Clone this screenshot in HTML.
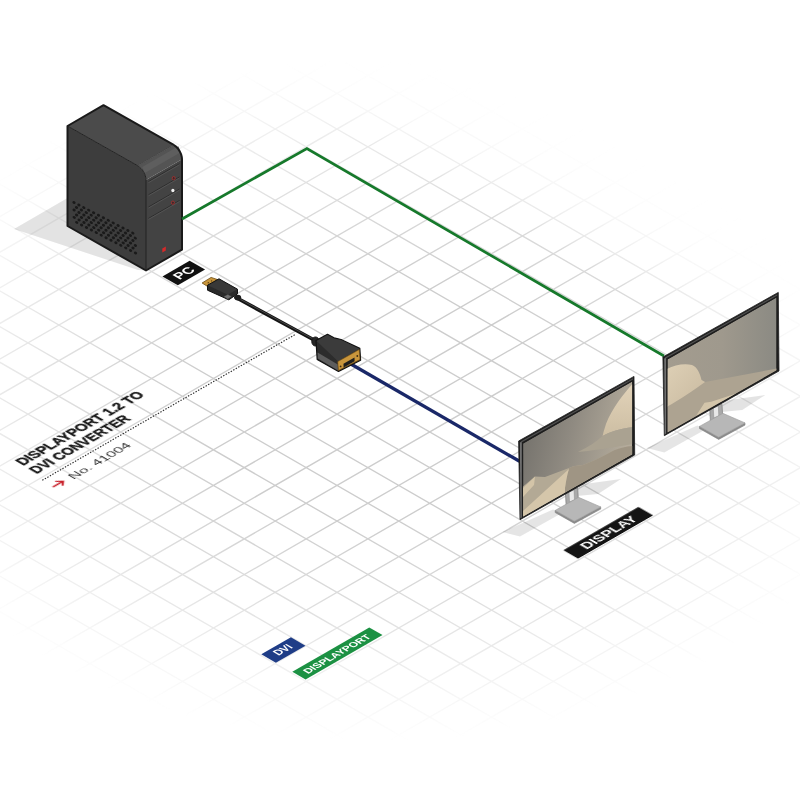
<!DOCTYPE html>
<html><head><meta charset="utf-8"><style>
html,body{margin:0;padding:0;background:#fff;width:800px;height:800px;overflow:hidden}
svg{display:block}
text{font-family:"Liberation Sans",sans-serif;-webkit-font-smoothing:antialiased}
</style></head><body>
<svg width="800" height="800" viewBox="0 0 800 800">
<rect width="800" height="800" fill="#fff"/>
<defs>
<linearGradient id="gx" gradientUnits="userSpaceOnUse" x1="-1069.8" y1="0" x2="509.9" y2="0"><stop offset="0.0000" stop-color="#fff" stop-opacity="0.000"/><stop offset="0.0028" stop-color="#fff" stop-opacity="0.016"/><stop offset="0.0056" stop-color="#fff" stop-opacity="0.062"/><stop offset="0.0085" stop-color="#fff" stop-opacity="0.141"/><stop offset="0.0113" stop-color="#fff" stop-opacity="0.250"/><stop offset="0.0141" stop-color="#fff" stop-opacity="0.391"/><stop offset="0.0169" stop-color="#fff" stop-opacity="0.562"/><stop offset="0.0198" stop-color="#fff" stop-opacity="0.766"/><stop offset="0.0226" stop-color="#fff" stop-opacity="1.000"/><stop offset="0.9097" stop-color="#fff" stop-opacity="1.000"/><stop offset="0.9210" stop-color="#fff" stop-opacity="0.766"/><stop offset="0.9323" stop-color="#fff" stop-opacity="0.562"/><stop offset="0.9436" stop-color="#fff" stop-opacity="0.391"/><stop offset="0.9549" stop-color="#fff" stop-opacity="0.250"/><stop offset="0.9661" stop-color="#fff" stop-opacity="0.141"/><stop offset="0.9774" stop-color="#fff" stop-opacity="0.062"/><stop offset="0.9887" stop-color="#fff" stop-opacity="0.016"/><stop offset="1.0000" stop-color="#fff" stop-opacity="0.000"/></linearGradient>
<linearGradient id="gy" gradientUnits="userSpaceOnUse" x1="0" y1="-485.0" x2="0" y2="463.6"><stop offset="0.0000" stop-color="#fff" stop-opacity="0.000"/><stop offset="0.0282" stop-color="#fff" stop-opacity="0.016"/><stop offset="0.0564" stop-color="#fff" stop-opacity="0.062"/><stop offset="0.0846" stop-color="#fff" stop-opacity="0.141"/><stop offset="0.1128" stop-color="#fff" stop-opacity="0.250"/><stop offset="0.1410" stop-color="#fff" stop-opacity="0.391"/><stop offset="0.1692" stop-color="#fff" stop-opacity="0.562"/><stop offset="0.1974" stop-color="#fff" stop-opacity="0.766"/><stop offset="0.2256" stop-color="#fff" stop-opacity="1.000"/><stop offset="0.5602" stop-color="#fff" stop-opacity="1.000"/><stop offset="0.6151" stop-color="#fff" stop-opacity="0.875"/><stop offset="0.6701" stop-color="#fff" stop-opacity="0.750"/><stop offset="0.7251" stop-color="#fff" stop-opacity="0.625"/><stop offset="0.7801" stop-color="#fff" stop-opacity="0.500"/><stop offset="0.8351" stop-color="#fff" stop-opacity="0.375"/><stop offset="0.8900" stop-color="#fff" stop-opacity="0.250"/><stop offset="0.9450" stop-color="#fff" stop-opacity="0.125"/><stop offset="1.0000" stop-color="#fff" stop-opacity="0.000"/></linearGradient>
<mask id="mx" maskUnits="userSpaceOnUse" x="-2000" y="-2000" width="4000" height="4000"><rect x="-2000" y="-2000" width="4000" height="4000" fill="url(#gx)"/></mask>
<mask id="my" maskUnits="userSpaceOnUse" x="-2000" y="-2000" width="4000" height="4000"><rect x="-2000" y="-2000" width="4000" height="4000" fill="url(#gy)"/></mask>
<linearGradient id="scr" x1="0" y1="0" x2="1" y2="1">
<stop offset="0" stop-color="#77736c"/><stop offset="0.55" stop-color="#a19a8d"/><stop offset="1" stop-color="#b9ae9b"/></linearGradient>
</defs>
<linearGradient id="gl" gradientUnits="userSpaceOnUse" x1="0" y1="0" x2="160" y2="0"><stop offset="0" stop-color="#fff" stop-opacity="0.8"/><stop offset="1" stop-color="#fff" stop-opacity="1"/></linearGradient>
<mask id="ml" maskUnits="userSpaceOnUse" x="0" y="0" width="800" height="800"><rect width="800" height="800" fill="url(#gl)"/></mask>
<linearGradient id="gt" gradientUnits="userSpaceOnUse" x1="0" y1="45" x2="0" y2="205"><stop offset="0" stop-color="#fff" stop-opacity="0"/><stop offset="1" stop-color="#fff" stop-opacity="1"/></linearGradient>
<mask id="mt" maskUnits="userSpaceOnUse" x="0" y="0" width="800" height="800"><rect width="800" height="800" fill="url(#gt)"/></mask>
<radialGradient id="grad" gradientUnits="userSpaceOnUse" cx="380" cy="400" r="510" gradientTransform="translate(380 400) scale(1 0.67) translate(-380 -400)"><stop offset="0" stop-color="#fff" stop-opacity="1"/><stop offset="0.36" stop-color="#fff" stop-opacity="1"/><stop offset="0.55" stop-color="#fff" stop-opacity="0.76"/><stop offset="0.75" stop-color="#fff" stop-opacity="0.42"/><stop offset="0.9" stop-color="#fff" stop-opacity="0.14"/><stop offset="1" stop-color="#fff" stop-opacity="0"/></radialGradient>
<mask id="mrad" maskUnits="userSpaceOnUse" x="0" y="0" width="800" height="800"><rect width="800" height="800" fill="url(#grad)"/></mask>
<g mask="url(#mrad)"><g><g transform="matrix(0.8665,-0.4997,0.8665,0.4997,306.1,467.6)"><g mask="url(#mx)"><g>
<path d="M-427.92,-485.0V463.6M-392.26,-485.0V463.6M-356.60,-485.0V463.6M-320.94,-485.0V463.6M-285.28,-485.0V463.6M-249.62,-485.0V463.6M-213.96,-485.0V463.6M-178.30,-485.0V463.6M-142.64,-485.0V463.6M-106.98,-485.0V463.6M-71.32,-485.0V463.6M-35.66,-485.0V463.6M0.00,-485.0V463.6M35.66,-485.0V463.6M71.32,-485.0V463.6M106.98,-485.0V463.6M142.64,-485.0V463.6M178.30,-485.0V463.6M213.96,-485.0V463.6M249.62,-485.0V463.6M285.28,-485.0V463.6M320.94,-485.0V463.6M356.60,-485.0V463.6M392.26,-485.0V463.6M427.92,-485.0V463.6M463.58,-485.0V463.6M499.24,-485.0V463.6M534.90,-485.0V463.6M-1069.8,-534.90H509.9M-1069.8,-499.24H509.9M-1069.8,-463.58H509.9M-1069.8,-427.92H509.9M-1069.8,-392.26H509.9M-1069.8,-356.60H509.9M-1069.8,-320.94H509.9M-1069.8,-285.28H509.9M-1069.8,-249.62H509.9M-1069.8,-213.96H509.9M-1069.8,-178.30H509.9M-1069.8,-142.64H509.9M-1069.8,-106.98H509.9M-1069.8,-71.32H509.9M-1069.8,-35.66H509.9M-1069.8,0.00H509.9M-1069.8,35.66H509.9M-1069.8,71.32H509.9M-1069.8,106.98H509.9M-1069.8,142.64H509.9M-1069.8,178.30H509.9M-1069.8,213.96H509.9M-1069.8,249.62H509.9M-1069.8,285.28H509.9M-1069.8,320.94H509.9M-1069.8,356.60H509.9M-1069.8,392.26H509.9" stroke="#cdcdcd" stroke-width="1.35" fill="none" vector-effect="non-scaling-stroke"/>
</g></g></g></g></g>
<polygon points="14,229 67.5,198 67.5,226 146,270.5 138,270" fill="#000" fill-opacity="0.11"/>
<polygon points="67.50,126.00 137.77,165.75 139.37,166.86 140.92,168.29 142.34,169.99 143.59,171.89 144.61,173.92 145.37,176.00 145.84,178.06 146.00,180.00 146.00,270.50 67.50,226.00" fill="#3d3d3d"/>
<polygon points="67.50,126.00 103.50,105.20 173.77,144.95 137.77,165.75" fill="#4b4b4b"/>
<polygon points="137.77,165.75 173.77,144.95 175.37,146.06 176.92,147.49 178.34,149.19 179.59,151.09 180.61,153.12 181.37,155.20 181.84,157.26 182.00,159.20 146.00,180.00 145.84,178.06 145.37,176.00 144.61,173.92 143.59,171.89 142.34,169.99 140.92,168.29 139.37,166.86" fill="#545454"/>
<polygon points="142.30,166.94 178.30,146.14 180.77,152.31 144.77,173.11" fill="#5e5e5e"/>
<polygon points="146.00,180.00 182.00,159.20 182.00,249.70 146.00,270.50" fill="#434343"/>
<line x1="148.5" y1="181.6" x2="179.5" y2="163.72" stroke="#2a2a2a" stroke-width="0.9"/>
<line x1="148.5" y1="182.6" x2="179.5" y2="164.72" stroke="#5c5c5c" stroke-width="0.7"/>
<line x1="148.5" y1="194.8" x2="179.5" y2="176.92" stroke="#2a2a2a" stroke-width="0.9"/>
<line x1="148.5" y1="195.8" x2="179.5" y2="177.92" stroke="#5c5c5c" stroke-width="0.7"/>
<line x1="148.5" y1="207.0" x2="179.5" y2="189.12" stroke="#2a2a2a" stroke-width="0.9"/>
<line x1="148.5" y1="208.0" x2="179.5" y2="190.12" stroke="#5c5c5c" stroke-width="0.7"/>
<line x1="148.5" y1="218.4" x2="179.5" y2="200.52" stroke="#2a2a2a" stroke-width="0.9"/>
<line x1="148.5" y1="219.4" x2="179.5" y2="201.52" stroke="#5c5c5c" stroke-width="0.7"/>
<ellipse cx="173.7" cy="178.2" rx="1.5" ry="1.7" fill="#3a2a2a" stroke="#b03030" stroke-width="0.8"/>
<ellipse cx="172.9" cy="190.5" rx="1.6" ry="1.8" fill="#f2f2f2"/>
<ellipse cx="172.9" cy="202.7" rx="1.5" ry="1.7" fill="#3a2a2a" stroke="#b03030" stroke-width="0.8"/>
<polygon points="162.3,248.6 165.8,246.6 165.8,250.4 162.3,252.4" fill="#d42a2a"/>
<g fill="#1a1a1a"><ellipse cx="74.20" cy="217.40" rx="1.7" ry="1.35" transform="rotate(28 74.20 217.40)"/><ellipse cx="76.70" cy="222.40" rx="1.7" ry="1.35" transform="rotate(28 76.70 222.40)"/><ellipse cx="74.10" cy="209.95" rx="1.7" ry="1.35" transform="rotate(28 74.10 209.95)"/><ellipse cx="76.60" cy="214.95" rx="1.7" ry="1.35" transform="rotate(28 76.60 214.95)"/><ellipse cx="79.10" cy="219.95" rx="1.7" ry="1.35" transform="rotate(28 79.10 219.95)"/><ellipse cx="81.60" cy="224.95" rx="1.7" ry="1.35" transform="rotate(28 81.60 224.95)"/><ellipse cx="74.00" cy="202.50" rx="1.7" ry="1.35" transform="rotate(28 74.00 202.50)"/><ellipse cx="76.50" cy="207.50" rx="1.7" ry="1.35" transform="rotate(28 76.50 207.50)"/><ellipse cx="79.00" cy="212.50" rx="1.7" ry="1.35" transform="rotate(28 79.00 212.50)"/><ellipse cx="81.50" cy="217.50" rx="1.7" ry="1.35" transform="rotate(28 81.50 217.50)"/><ellipse cx="84.00" cy="222.50" rx="1.7" ry="1.35" transform="rotate(28 84.00 222.50)"/><ellipse cx="86.50" cy="227.50" rx="1.7" ry="1.35" transform="rotate(28 86.50 227.50)"/><ellipse cx="78.90" cy="205.05" rx="1.7" ry="1.35" transform="rotate(28 78.90 205.05)"/><ellipse cx="81.40" cy="210.05" rx="1.7" ry="1.35" transform="rotate(28 81.40 210.05)"/><ellipse cx="83.90" cy="215.05" rx="1.7" ry="1.35" transform="rotate(28 83.90 215.05)"/><ellipse cx="86.40" cy="220.05" rx="1.7" ry="1.35" transform="rotate(28 86.40 220.05)"/><ellipse cx="88.90" cy="225.05" rx="1.7" ry="1.35" transform="rotate(28 88.90 225.05)"/><ellipse cx="91.40" cy="230.05" rx="1.7" ry="1.35" transform="rotate(28 91.40 230.05)"/><ellipse cx="83.80" cy="207.60" rx="1.7" ry="1.35" transform="rotate(28 83.80 207.60)"/><ellipse cx="86.30" cy="212.60" rx="1.7" ry="1.35" transform="rotate(28 86.30 212.60)"/><ellipse cx="88.80" cy="217.60" rx="1.7" ry="1.35" transform="rotate(28 88.80 217.60)"/><ellipse cx="91.30" cy="222.60" rx="1.7" ry="1.35" transform="rotate(28 91.30 222.60)"/><ellipse cx="93.80" cy="227.60" rx="1.7" ry="1.35" transform="rotate(28 93.80 227.60)"/><ellipse cx="96.30" cy="232.60" rx="1.7" ry="1.35" transform="rotate(28 96.30 232.60)"/><ellipse cx="88.70" cy="210.15" rx="1.7" ry="1.35" transform="rotate(28 88.70 210.15)"/><ellipse cx="91.20" cy="215.15" rx="1.7" ry="1.35" transform="rotate(28 91.20 215.15)"/><ellipse cx="93.70" cy="220.15" rx="1.7" ry="1.35" transform="rotate(28 93.70 220.15)"/><ellipse cx="96.20" cy="225.15" rx="1.7" ry="1.35" transform="rotate(28 96.20 225.15)"/><ellipse cx="98.70" cy="230.15" rx="1.7" ry="1.35" transform="rotate(28 98.70 230.15)"/><ellipse cx="101.20" cy="235.15" rx="1.7" ry="1.35" transform="rotate(28 101.20 235.15)"/><ellipse cx="93.60" cy="212.70" rx="1.7" ry="1.35" transform="rotate(28 93.60 212.70)"/><ellipse cx="96.10" cy="217.70" rx="1.7" ry="1.35" transform="rotate(28 96.10 217.70)"/><ellipse cx="98.60" cy="222.70" rx="1.7" ry="1.35" transform="rotate(28 98.60 222.70)"/><ellipse cx="101.10" cy="227.70" rx="1.7" ry="1.35" transform="rotate(28 101.10 227.70)"/><ellipse cx="103.60" cy="232.70" rx="1.7" ry="1.35" transform="rotate(28 103.60 232.70)"/><ellipse cx="106.10" cy="237.70" rx="1.7" ry="1.35" transform="rotate(28 106.10 237.70)"/><ellipse cx="98.50" cy="215.25" rx="1.7" ry="1.35" transform="rotate(28 98.50 215.25)"/><ellipse cx="101.00" cy="220.25" rx="1.7" ry="1.35" transform="rotate(28 101.00 220.25)"/><ellipse cx="103.50" cy="225.25" rx="1.7" ry="1.35" transform="rotate(28 103.50 225.25)"/><ellipse cx="106.00" cy="230.25" rx="1.7" ry="1.35" transform="rotate(28 106.00 230.25)"/><ellipse cx="108.50" cy="235.25" rx="1.7" ry="1.35" transform="rotate(28 108.50 235.25)"/><ellipse cx="111.00" cy="240.25" rx="1.7" ry="1.35" transform="rotate(28 111.00 240.25)"/><ellipse cx="103.40" cy="217.80" rx="1.7" ry="1.35" transform="rotate(28 103.40 217.80)"/><ellipse cx="105.90" cy="222.80" rx="1.7" ry="1.35" transform="rotate(28 105.90 222.80)"/><ellipse cx="108.40" cy="227.80" rx="1.7" ry="1.35" transform="rotate(28 108.40 227.80)"/><ellipse cx="110.90" cy="232.80" rx="1.7" ry="1.35" transform="rotate(28 110.90 232.80)"/><ellipse cx="113.40" cy="237.80" rx="1.7" ry="1.35" transform="rotate(28 113.40 237.80)"/><ellipse cx="115.90" cy="242.80" rx="1.7" ry="1.35" transform="rotate(28 115.90 242.80)"/><ellipse cx="108.30" cy="220.35" rx="1.7" ry="1.35" transform="rotate(28 108.30 220.35)"/><ellipse cx="110.80" cy="225.35" rx="1.7" ry="1.35" transform="rotate(28 110.80 225.35)"/><ellipse cx="113.30" cy="230.35" rx="1.7" ry="1.35" transform="rotate(28 113.30 230.35)"/><ellipse cx="115.80" cy="235.35" rx="1.7" ry="1.35" transform="rotate(28 115.80 235.35)"/><ellipse cx="118.30" cy="240.35" rx="1.7" ry="1.35" transform="rotate(28 118.30 240.35)"/><ellipse cx="120.80" cy="245.35" rx="1.7" ry="1.35" transform="rotate(28 120.80 245.35)"/><ellipse cx="113.20" cy="222.90" rx="1.7" ry="1.35" transform="rotate(28 113.20 222.90)"/><ellipse cx="115.70" cy="227.90" rx="1.7" ry="1.35" transform="rotate(28 115.70 227.90)"/><ellipse cx="118.20" cy="232.90" rx="1.7" ry="1.35" transform="rotate(28 118.20 232.90)"/><ellipse cx="120.70" cy="237.90" rx="1.7" ry="1.35" transform="rotate(28 120.70 237.90)"/><ellipse cx="123.20" cy="242.90" rx="1.7" ry="1.35" transform="rotate(28 123.20 242.90)"/><ellipse cx="125.70" cy="247.90" rx="1.7" ry="1.35" transform="rotate(28 125.70 247.90)"/><ellipse cx="118.10" cy="225.45" rx="1.7" ry="1.35" transform="rotate(28 118.10 225.45)"/><ellipse cx="120.60" cy="230.45" rx="1.7" ry="1.35" transform="rotate(28 120.60 230.45)"/><ellipse cx="123.10" cy="235.45" rx="1.7" ry="1.35" transform="rotate(28 123.10 235.45)"/><ellipse cx="125.60" cy="240.45" rx="1.7" ry="1.35" transform="rotate(28 125.60 240.45)"/><ellipse cx="128.10" cy="245.45" rx="1.7" ry="1.35" transform="rotate(28 128.10 245.45)"/><ellipse cx="130.60" cy="250.45" rx="1.7" ry="1.35" transform="rotate(28 130.60 250.45)"/><ellipse cx="123.00" cy="228.00" rx="1.7" ry="1.35" transform="rotate(28 123.00 228.00)"/><ellipse cx="125.50" cy="233.00" rx="1.7" ry="1.35" transform="rotate(28 125.50 233.00)"/><ellipse cx="128.00" cy="238.00" rx="1.7" ry="1.35" transform="rotate(28 128.00 238.00)"/><ellipse cx="130.50" cy="243.00" rx="1.7" ry="1.35" transform="rotate(28 130.50 243.00)"/><ellipse cx="133.00" cy="248.00" rx="1.7" ry="1.35" transform="rotate(28 133.00 248.00)"/><ellipse cx="135.50" cy="253.00" rx="1.7" ry="1.35" transform="rotate(28 135.50 253.00)"/><ellipse cx="127.90" cy="230.55" rx="1.7" ry="1.35" transform="rotate(28 127.90 230.55)"/><ellipse cx="130.40" cy="235.55" rx="1.7" ry="1.35" transform="rotate(28 130.40 235.55)"/><ellipse cx="132.90" cy="240.55" rx="1.7" ry="1.35" transform="rotate(28 132.90 240.55)"/><ellipse cx="135.40" cy="245.55" rx="1.7" ry="1.35" transform="rotate(28 135.40 245.55)"/><ellipse cx="132.80" cy="233.10" rx="1.7" ry="1.35" transform="rotate(28 132.80 233.10)"/><ellipse cx="135.30" cy="238.10" rx="1.7" ry="1.35" transform="rotate(28 135.30 238.10)"/></g>
<polygon points="67.50,126.00 103.50,105.20 173.77,144.95 175.37,146.06 176.92,147.49 178.34,149.19 179.59,151.09 180.61,153.12 181.37,155.20 181.84,157.26 182.00,159.20 182.00,249.70 146.00,270.50 67.50,226.00" fill="none" stroke="#1a1a1a" stroke-width="2.0" stroke-linejoin="round"/>
<polyline points="67.50,126.00 137.77,165.75 139.37,166.86 140.92,168.29 142.34,169.99 143.59,171.89 144.61,173.92 145.37,176.00 145.84,178.06 146.00,180.00 146.00,270.50" fill="none" stroke="#222" stroke-width="1.0"/>
<polyline points="137.77,165.75 173.77,144.95" fill="none" stroke="#333" stroke-width="0.6"/>
<polyline points="182,219 306.9,148.6 664,356" fill="none" stroke="#16792b" stroke-width="2.7" stroke-linejoin="miter"/>
<line x1="350" y1="363.5" x2="519.5" y2="461.3" stroke="#1a2868" stroke-width="3.3"/>
<line x1="42.3" y1="480.3" x2="296" y2="334" stroke="#2a2a2a" stroke-width="1.15" stroke-dasharray="1.4,1.5"/>
<line x1="236" y1="297.5" x2="315" y2="340.5" stroke="#151515" stroke-width="3.7" stroke-linecap="round"/>
<line x1="236" y1="297.0" x2="315" y2="340.0" stroke="#474747" stroke-width="1.0" stroke-linecap="round"/>
<polygon points="202.1,283 211.1,277.4 217.5,279.6 208.1,286.8" fill="#c9963c" stroke="#6b4a12" stroke-width="0.8"/>
<polygon points="207.5,285.2 219,278.8 237.5,289.2 237.5,293.8 228.8,299.8 207.5,290.2" fill="#2a2a2a" stroke="#111" stroke-width="1.0" stroke-linejoin="round"/>
<polygon points="208.2,285.4 219,279.4 236.8,289.5 227.8,294.8" fill="#383838"/>
<polygon points="223.5,296.6 227.8,294.3 231.8,296.6 227.8,299.2" fill="#707070" stroke="#2a2a2a" stroke-width="0.5"/>
<circle cx="208.3" cy="282.8" r="0.7" fill="#5a3e10"/><circle cx="211.6" cy="280.9" r="0.7" fill="#5a3e10"/>
<ellipse cx="237.8" cy="297.6" rx="3.4" ry="2.9" fill="#1e1e1e"/>
<ellipse cx="315.5" cy="341.5" rx="3.8" ry="4.6" fill="#262626" stroke="#111" stroke-width="0.8"/>
<polygon points="316,340.5 327.5,334.3 334,337.8 341,339.5 359.8,348.4 360.6,360.2 338.5,371.5 317.2,359.4" fill="#2c2c2c" stroke="#121212" stroke-width="1.2" stroke-linejoin="round"/>
<polygon points="316.6,341 327.5,335 334,338.4 341,340.1 359.2,348.8 338,361.2" fill="#3b3b3b"/>
<polygon points="317.6,352.5 337.8,364.5 338,370.4 317.8,358.6" fill="#5d5d5d"/>
<polygon points="337.8,361.6 359.2,349.6 360,359.6 338.4,370.6" fill="#c9963c" stroke="#6f4e16" stroke-width="0.6"/>
<polygon points="343.5,363.8 354.5,357.6 354.6,361.2 343.6,367.4" fill="#1e1e1e"/>
<circle cx="340.6" cy="366.4" r="0.9" fill="#3a2a10"/>
<circle cx="357.3" cy="356" r="0.9" fill="#3a2a10"/>
<defs><linearGradient id="scr1" x1="0" y1="0" x2="1" y2="0.3"><stop offset="0" stop-color="#6e6c67"/><stop offset="0.5" stop-color="#8f8a81"/><stop offset="0.8" stop-color="#a59e91"/><stop offset="1" stop-color="#b4ab9b"/></linearGradient><linearGradient id="dune1" x1="0" y1="0" x2="0" y2="1"><stop offset="0" stop-color="#e2d3b9"/><stop offset="1" stop-color="#cdbea3"/></linearGradient><linearGradient id="scr2" x1="0" y1="0" x2="1" y2="0"><stop offset="0" stop-color="#a39c8f"/><stop offset="0.5" stop-color="#9f998d"/><stop offset="1" stop-color="#8b8a83"/></linearGradient><linearGradient id="dune2" x1="0" y1="0" x2="1" y2="1"><stop offset="0" stop-color="#ddcfb5"/><stop offset="1" stop-color="#c9baa0"/></linearGradient></defs>
<polygon points="579.00,484.80 621.00,479.00 598.00,494.00 577.00,496.00" fill="#000" fill-opacity="0.11"/>
<polygon points="502.50,532.00 553.00,509.50 562.00,513.00 520.00,536.50" fill="#000" fill-opacity="0.10"/>
<polygon points="565.30,489.80 577.70,487.90 578.60,505.00 566.30,508.80" fill="#a9a9a9" stroke="#7b7b7b" stroke-width="0.7"/>
<polygon points="569.00,492.00 574.00,490.00 574.50,500.00 569.50,502.00" fill="#e8e8e8" stroke="#888" stroke-width="0.5"/>
<polygon points="555.20,510.40 574.40,521.20 600.70,506.90 600.70,509.10 574.40,523.40 555.20,512.60" fill="#8c8c8c" stroke="#808080" stroke-width="0.6"/>
<polygon points="555.20,510.40 578.50,497.30 600.70,506.90 574.40,521.20" fill="#b7b7b7" stroke="#9a9a9a" stroke-width="0.6" stroke-linejoin="round"/>
<polygon points="518.60,441.00 634.00,376.40 634.70,455.00 520.00,519.70" fill="#1e1e1e" stroke="#1e1e1e" stroke-width="0.8" stroke-linejoin="round"/>
<polygon points="519.90,442.60 521.80,441.60 521.80,517.60 520.40,518.30" fill="#707070"/>
<polygon points="520.60,441.60 633.00,378.20 633.00,379.60 521.50,442.60" fill="#505050"/>
<g transform="translate(0.00,0.00)"><clipPath id="sc1"><polygon points="523.10,443.50 632.20,381.50 632.20,454.30 523.10,516.40"/></clipPath><g clip-path="url(#sc1)"><polygon points="523.10,443.50 632.20,381.50 632.20,454.30 523.10,516.40" fill="url(#scr1)"/><path d="M632.5,384 C625,392 612,408 606,424 C604,430 603,434 602.6,436 C610,432 620,428.5 632.5,427 Z" fill="url(#dune1)"/><path d="M602.6,436 C596,442 588,447 578,452 C590,451 610,448 632.5,444 L632.5,427 C620,428.5 610,432 602.6,436 Z" fill="#aaa291"/><path d="M523,486.5 L535,476.4 L545,477 L569,468 C573,466 577,465.5 581,465.5 C590,463 600,458 614.2,450.3 C620,448 626,446.5 632.5,446 L632.5,460 L523,520 Z" fill="#b3a995"/><path d="M569,468 C573,466 577,465.5 581,465.5 C590,463 600,458 614.2,450.3 C620,448 626,446.5 632.5,446 L632.5,460 L565,495 L565,488 C566,481 567,474 569,468 Z" fill="#9f9584"/><path d="M523,488 L535,476.5 L534,485 L523,497 Z" fill="#d3c4a8"/><path d="M523,511 L569,469 C567,475 566,481 565,488 L565,495 L523,520 Z" fill="#d5c6aa"/></g></g>
<polygon points="723.30,400.80 765.30,395.00 742.30,410.00 721.30,412.00" fill="#000" fill-opacity="0.11"/>
<polygon points="646.80,448.00 697.30,425.50 706.30,429.00 664.30,452.50" fill="#000" fill-opacity="0.10"/>
<polygon points="709.60,405.80 722.00,403.90 722.90,421.00 710.60,424.80" fill="#a9a9a9" stroke="#7b7b7b" stroke-width="0.7"/>
<polygon points="713.30,408.00 718.30,406.00 718.80,416.00 713.80,418.00" fill="#e8e8e8" stroke="#888" stroke-width="0.5"/>
<polygon points="699.50,426.40 718.70,437.20 745.00,422.90 745.00,425.10 718.70,439.40 699.50,428.60" fill="#8c8c8c" stroke="#808080" stroke-width="0.6"/>
<polygon points="699.50,426.40 722.80,413.30 745.00,422.90 718.70,437.20" fill="#b7b7b7" stroke="#9a9a9a" stroke-width="0.6" stroke-linejoin="round"/>
<polygon points="662.90,357.00 778.30,292.40 779.00,371.00 664.30,435.70" fill="#1e1e1e" stroke="#1e1e1e" stroke-width="0.8" stroke-linejoin="round"/>
<polygon points="664.20,358.60 666.10,357.60 666.10,433.60 664.70,434.30" fill="#707070"/>
<polygon points="664.90,357.60 777.30,294.20 777.30,295.60 665.80,358.60" fill="#505050"/>
<g transform="translate(144.30,-84.00)"><clipPath id="sc2"><polygon points="523.10,443.50 632.20,381.50 632.20,454.30 523.10,516.40"/></clipPath><g clip-path="url(#sc2)"><polygon points="523.10,443.50 632.20,381.50 632.20,454.30 523.10,516.40" fill="url(#scr2)"/><path d="M557.2,464 L560.7,466 L632.5,452.5 L632.5,460 L523,520 L523,490 Z" fill="#ada391"/><path d="M523,452.75 C530,449 540,447 547.7,449 C553,451 556,458 557.2,464 L560.7,466 C550,474 535,484 523,490.5 Z" fill="url(#dune2)"/><path d="M552,499.5 L560.2,486.8 L566.9,485.7 L592,477.5 L580,484 Z" fill="#d3c5aa"/></g></g>
<filter id="gsf" x="-10%" y="-10%" width="120%" height="120%"><feOffset dx="0" dy="0"/></filter>
<g filter="url(#gsf)">
<g transform="matrix(0.8665,-0.4997,0.8665,0.4997,306.1,467.6)"><rect x="108.40" y="-274.20" width="31.40" height="17.80" fill="#111"/><text x="114.62" y="-260.60" font-size="13.0" font-weight="bold" fill="#fff" textLength="18.96" lengthAdjust="spacingAndGlyphs">PC</text></g>
<g transform="matrix(0.8665,-0.4997,0.8665,0.4997,306.1,467.6)"><rect x="65.80" y="231.20" width="86.60" height="16.80" fill="#141414"/><text x="79.71" y="243.70" font-size="13.2" font-weight="bold" fill="#fff" textLength="60.08" lengthAdjust="spacingAndGlyphs">DISPLAY</text></g>
<g transform="matrix(0.8665,-0.4997,0.8665,0.4997,306.1,467.6)"><rect x="-212.70" y="161.00" width="34.20" height="16.80" fill="#1f3d87"/><text x="-204.26" y="172.50" font-size="11.0" font-weight="bold" fill="#fff" textLength="17.22" lengthAdjust="spacingAndGlyphs">DVI</text></g>
<g transform="matrix(0.8665,-0.4997,0.8665,0.4997,306.1,467.6)"><rect x="-212.30" y="196.40" width="88.80" height="15.30" fill="#1c9143"/><text x="-205.59" y="207.70" font-size="9.8" font-weight="bold" fill="#fff" textLength="73.88" lengthAdjust="spacingAndGlyphs">DISPLAYPORT</text></g>
<g transform="matrix(0.8665,-0.4997,0.8665,0.4997,306.1,467.6)"><text x="-161.84" y="-165.40" font-size="14.0" font-weight="bold" fill="#161616" stroke="#161616" stroke-width="0.4" stroke-linejoin="round" textLength="141.28" lengthAdjust="spacingAndGlyphs">DISPLAYPORT 1.2 TO</text><text x="-161.94" y="-148.90" font-size="14.0" font-weight="bold" fill="#161616" stroke="#161616" stroke-width="0.4" stroke-linejoin="round" textLength="109.58" lengthAdjust="spacingAndGlyphs">DVI CONVERTER</text><text x="-146.20" y="-122.50" font-size="11.7" font-weight="normal" fill="#3a3a3a" textLength="67.70" lengthAdjust="spacingAndGlyphs">No. 41004</text><path d="M-165.6,-126.6 H-154 M-158.5,-130.8 L-153.8,-126.6 L-158.5,-122.4" stroke="#c8202a" stroke-width="1.7" fill="none"/></g>
</g>
</svg></body></html>
